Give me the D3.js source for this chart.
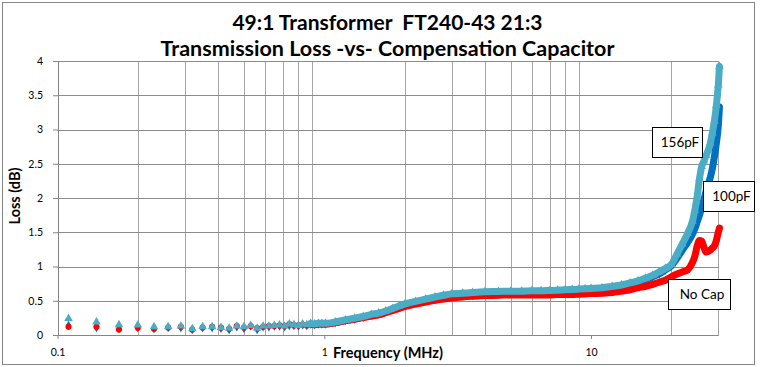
<!DOCTYPE html>
<html><head><meta charset="utf-8">
<script src="https://cdn.jsdelivr.net/npm/d3@7"></script>
<style>body{margin:0;background:#fff}svg{display:block}</style>
</head><body><svg id="c" width="764" height="367"></svg>
<script>
const titleLines = ["49:1 Transformer  FT240-43 21:3", "Transmission Loss -vs- Compensation Capacitor"];
const xTicks = [0.1, 1, 10];
const xTickLabels = ["0.1", "1", "10"];
const yTicks = [0, 0.5, 1, 1.5, 2, 2.5, 3, 3.5, 4];
const xMinorGrid = [0.2,0.3,0.4,0.5,0.6,0.7,0.8,0.9,2,3,4,5,6,7,8,9,20,30];
const seriesNames = ["No Cap", "100pF", "156pF"];

const freq = [0.11,0.14,0.17,0.20,0.23,0.26,0.29,0.32,0.35,0.38,0.41,0.44,0.47,0.50,0.53,0.56,0.59,0.62,0.65,0.68,0.71,0.74,0.77,0.80,0.83,0.86,0.89,0.92,0.95,0.98,
  1.01,1.1,1.2,1.3,1.4,1.5,1.6,1.7,1.8,1.9,2.0,2.2,2.4,2.6,2.8,3.0,3.3,3.6,4,4.5,5,5.5,6,6.5,7,7.5,8,8.5,9,9.5,10,
  11,12,13,14,15,16,17,18,19,20,21,22,23,24,24.5,25,25.5,26,26.5,27,27.5,28,28.5,29,29.5,30,30.3];

const lossNoCap = [0.12,0.12,0.08,0.105,0.09,0.11,0.12,0.08,0.11,0.12,0.11,0.09,0.13,0.11,0.13,0.10,0.12,0.13,0.13,0.14,0.13,0.16,0.14,0.14,0.15,0.14,0.16,0.15,0.16,0.16,
  0.16,0.18,0.21,0.23,0.255,0.275,0.295,0.325,0.355,0.385,0.415,0.45,0.48,0.505,0.525,0.54,0.555,0.565,0.575,0.58,0.585,0.585,0.585,0.585,0.585,0.59,0.59,0.59,0.595,0.6,0.605,
  0.61,0.62,0.64,0.66,0.69,0.71,0.74,0.77,0.80,0.85,0.89,0.92,0.95,1.06,1.15,1.3,1.38,1.37,1.28,1.21,1.22,1.24,1.27,1.30,1.38,1.5,1.56];

const loss100 = [0.14,0.11,0.09,0.11,0.09,0.11,0.11,0.08,0.11,0.11,0.10,0.08,0.12,0.10,0.13,0.08,0.12,0.12,0.13,0.13,0.12,0.14,0.14,0.13,0.15,0.14,0.16,0.15,0.16,0.16,
  0.16,0.18,0.21,0.235,0.26,0.29,0.31,0.34,0.375,0.41,0.44,0.48,0.515,0.545,0.57,0.59,0.60,0.61,0.62,0.625,0.63,0.63,0.635,0.635,0.64,0.645,0.65,0.655,0.66,0.665,0.67,
  0.68,0.70,0.72,0.75,0.78,0.81,0.85,0.89,0.95,1.01,1.12,1.24,1.35,1.47,1.55,1.65,1.75,1.86,1.98,2.1,2.2,2.3,2.43,2.6,2.8,3.05,3.33];

const loss156 = [0.24,0.19,0.15,0.145,0.12,0.12,0.13,0.09,0.12,0.12,0.11,0.10,0.13,0.12,0.14,0.10,0.13,0.13,0.14,0.145,0.13,0.16,0.15,0.14,0.16,0.15,0.17,0.16,0.17,0.17,
  0.17,0.19,0.22,0.245,0.27,0.30,0.32,0.35,0.385,0.42,0.45,0.49,0.525,0.555,0.58,0.60,0.61,0.62,0.63,0.635,0.64,0.64,0.645,0.645,0.65,0.655,0.66,0.665,0.67,0.675,0.68,
  0.69,0.71,0.73,0.76,0.79,0.83,0.87,0.92,0.97,1.03,1.18,1.33,1.48,1.66,1.82,2.02,2.28,2.46,2.54,2.62,2.7,2.8,2.95,3.12,3.35,3.65,3.92];

const svg = d3.select("#c");
const W = 764, H = 367;
const x = d3.scaleLog().domain([0.1, 30]).range([57.5, 718.3]);
const y = d3.scaleLinear().domain([0, 4]).range([335, 61]);
const crisp = v => Math.round(v) + 0.5;
const ff = "Lato, 'Liberation Sans', sans-serif";

svg.append("rect").attr("width", W).attr("height", H).attr("fill", "#fff");
svg.append("rect").attr("x", 2.5).attr("y", 2.5).attr("width", 752).attr("height", 362)
  .attr("fill", "#fff").attr("stroke", "#868686").attr("stroke-width", 1);

// gridlines
const g = svg.append("g");
g.selectAll("line.vg").data(xMinorGrid).join("line").attr("class", "vg")
  .attr("x1", d => crisp(x(d))).attr("x2", d => crisp(x(d)))
  .attr("y1", y(0)).attr("y2", y(4))
  .attr("stroke", "#a6a6a6").attr("stroke-width", 1);
g.selectAll("line.hg").data(yTicks.filter(d => d > 0)).join("line").attr("class", "hg")
  .attr("x1", x(0.1)).attr("x2", x(30))
  .attr("y1", d => crisp(y(d))).attr("y2", d => crisp(y(d)))
  .attr("stroke", "#8c8c8c").attr("stroke-width", 1);

// axes
const yAxis = d3.axisLeft(y).tickValues(yTicks).tickSize(5).tickSizeOuter(0).tickPadding(10)
  .tickFormat(d3.format("~g"));
const ya = svg.append("g").attr("transform", `translate(${crisp(x(0.1)) - 0.5},0)`).call(yAxis);
const xAxis = d3.axisBottom(x).tickValues(xTicks).tickSize(4).tickSizeOuter(0).tickPadding(10)
  .tickFormat((d, i) => xTickLabels[i]);
const xa = svg.append("g").attr("transform", `translate(0,${crisp(y(0)) - 0.5})`).call(xAxis);
[ya, xa].forEach(a => {
  a.select(".domain").attr("stroke", "#868686");
  a.selectAll(".tick line").attr("stroke", "#868686");
  a.selectAll(".tick text").attr("fill", "#000").style("font-family", ff).style("font-size", "10.5px");
});

// series
const pts = (vals) => freq.map((f, i) => ({ f, v: vals[i] }));
const line = d3.line().x(d => x(d.f)).y(d => y(d.v)).curve(d3.curveMonotoneX);
const series = [
  { name: seriesNames[1], vals: loss100, color: "#0070C0", sym: d3.symbolDiamond, size: 26 },
  { name: seriesNames[0], vals: lossNoCap, color: "#FF0000", sym: d3.symbolCircle, size: 30 },
  { name: seriesNames[2], vals: loss156, color: "#4BACC6", sym: d3.symbolTriangle, size: 32 }
];
series.forEach(s => {
  const p = pts(s.vals);
  const gs = svg.append("g");
  gs.append("path").datum(p.filter(d => d.f >= 0.89))
    .attr("d", line).attr("fill", "none").attr("stroke", s.color)
    .attr("stroke-width", 7).attr("stroke-linejoin", "round").attr("stroke-linecap", "round");
  gs.selectAll("path.m").data(p).join("path").attr("class", "m")
    .attr("transform", d => `translate(${x(d.f)},${y(d.v)})`)
    .attr("d", d3.symbol().type(s.sym).size(s.size)).attr("fill", s.color);
});

// titles
svg.append("text").attr("x", 387.5).attr("y", 30).attr("text-anchor", "middle").attr("xml:space", "preserve")
  .style("white-space", "pre")
  .style("font-family", ff).style("font-weight", "bold").style("font-size", "21px").text(titleLines[0]);
svg.append("text").attr("x", 387.5).attr("y", 56).attr("text-anchor", "middle")
  .style("font-family", ff).style("font-weight", "bold").style("font-size", "21.5px").text(titleLines[1]);
svg.append("text").attr("x", 388).attr("y", 358).attr("text-anchor", "middle")
  .style("font-family", ff).style("font-weight", "bold").style("font-size", "14.5px").text("Frequency (MHz)");
svg.append("text").attr("transform", "translate(19.5,196) rotate(-90)").attr("text-anchor", "middle")
  .style("font-family", ff).style("font-weight", "bold").style("font-size", "14.5px").text("Loss (dB)");

// data labels
const labels = [
  { t: seriesNames[2], x: 652, y: 127, w: 50, h: 30 },
  { t: seriesNames[1], x: 703, y: 181, w: 51, h: 30 },
  { t: seriesNames[0], x: 668, y: 279, w: 62, h: 30 }
];
labels.forEach(l => {
  svg.append("rect").attr("x", l.x + 0.5).attr("y", l.y + 0.5).attr("width", l.w).attr("height", l.h)
    .attr("fill", "#fff").attr("stroke", "#000").attr("stroke-width", 1);
  svg.append("text").attr("x", l.x + l.w / 2 + 3).attr("y", l.y + l.h / 2 + 5).attr("text-anchor", "middle")
    .style("font-family", ff).style("font-size", "13.5px").attr("fill", "#000").text(l.t);
});
</script></body></html>
